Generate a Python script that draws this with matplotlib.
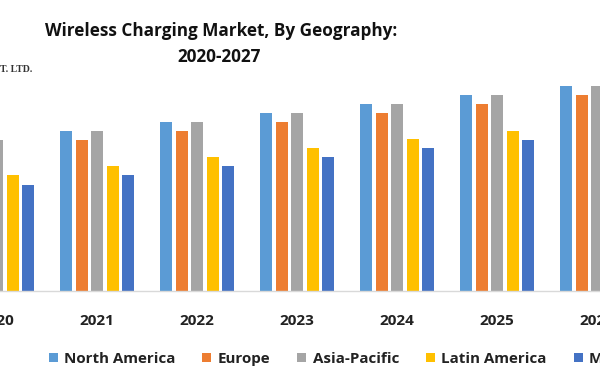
import matplotlib
matplotlib.use("Agg")
import matplotlib.pyplot as plt
import numpy as np
from matplotlib.patches import Patch

years = ["2020", "2021", "2022", "2023", "2024", "2025", "2026", "2027"]
series = ["North America", "Europe", "Asia-Pacific", "Latin America", "Middle East and Africa"]
north_america = [15.1, 16.0, 16.9, 17.8, 18.7, 19.55, 20.45, 21.35]
europe        = [14.2, 15.1, 16.0, 16.9, 17.8, 18.65, 19.55, 20.45]
asia_pacific  = [15.1, 16.0, 16.9, 17.8, 18.7, 19.55, 20.45, 21.35]
latin_america = [11.55, 12.45, 13.35, 14.25, 15.15, 16.0, 16.9, 17.8]
mea           = [10.55, 11.55, 12.45, 13.35, 14.25, 15.1, 16.0, 16.9]
colors = ["#5B9BD5", "#ED7D31", "#A5A5A5", "#FFC000", "#4472C4"]

W, H = 600, 380
fig = plt.figure(figsize=(6, 3.8), dpi=100)
base = 290.5
# axes wider than the figure: the chart is seen cropped at both sides
ax = fig.add_axes([-50 / W, 1 - base / H, 700 / W, base / H])

x = np.arange(len(years))
data = [north_america, europe, asia_pacific, latin_america, mea]
bw = 0.12
step = 0.155
for k, (vals, c) in enumerate(zip(data, colors)):
    ax.bar(x + (k - 2) * step, vals, width=bw, color=c, zorder=2)

for s in ["top", "right", "left"]:
    ax.spines[s].set_visible(False)
ax.spines["bottom"].set_color("#D9D9D9")
ax.spines["bottom"].set_linewidth(1.0)
ax.set_yticks([])
ax.set_xticks(x)
ax.set_xticklabels(years, fontsize=11, fontweight="bold", family="Open Sans", color="#222222")
ax.tick_params(axis="x", length=0, pad=17)
ax.set_xlim(-0.47, 6.53)
ax.set_ylim(0, 29.05)

fig.text(221 / W, 1 - 31 / H, "Wireless Charging Market, By Geography:", ha="center", va="center",
         fontsize=12.3, fontweight="bold", family="Open Sans", color="#111111")
fig.text(219 / W, 1 - 57 / H, "2020-2027", ha="center", va="center",
         fontsize=12.3, fontweight="bold", family="Open Sans", color="#111111")
fig.text(0, 1 - 70 / H, "T. LTD.", ha="left", va="center", fontsize=7,
         family="Liberation Serif", fontweight="bold", color="#333333")

handles = [Patch(facecolor=c, edgecolor="none") for c in colors]
leg = fig.legend(handles, series, loc="center left", bbox_to_anchor=(35 / W, 1 - 359 / H),
                 ncol=5, frameon=False, handlelength=0.6, handleheight=0.6, handletextpad=0.4,
                 columnspacing=1.8,
                 prop={"family": "Open Sans", "size": 10.9, "weight": "bold"})
for t in leg.get_texts():
    t.set_color("#222222")

fig.savefig("out.png", dpi=100)
